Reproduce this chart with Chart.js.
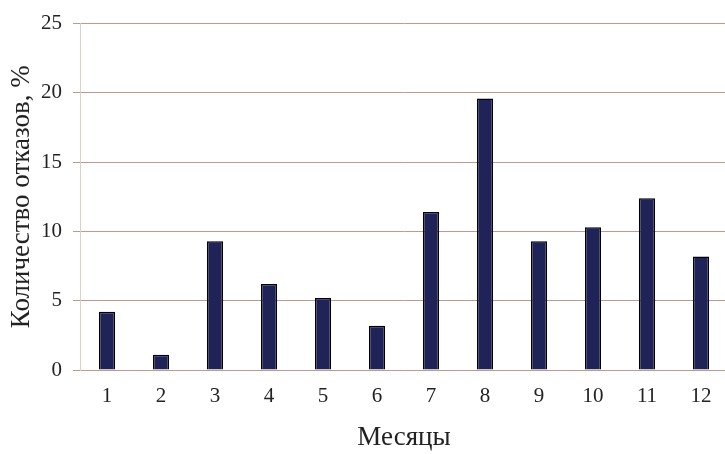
<!DOCTYPE html>
<html>
<head>
<meta charset="utf-8">
<script src="https://cdn.jsdelivr.net/npm/chart.js@4/dist/chart.umd.min.js"></script>
<style>
  html, body { margin: 0; padding: 0; background: #fff; overflow: hidden; }
  #wrap { width: 728px; height: 454px; }
</style>
</head>
<body>
<div id="wrap"><canvas id="myChart" width="728" height="454"></canvas></div>
<script>
// Данные графика
var months = ['1', '2', '3', '4', '5', '6', '7', '8', '9', '10', '11', '12'];
var failures = [4.2, 1.1, 9.3, 6.2, 5.2, 3.2, 11.4, 19.6, 9.3, 10.3, 12.4, 8.2];
var yTicks = [0, 5, 10, 15, 20, 25];

var serif = "'Liberation Serif', 'Times New Roman', serif";
var gridColor = '#c09a92';

var ctx = document.getElementById('myChart').getContext('2d');
var myChart = new Chart(ctx, {
    type: 'bar',
    data: {
        labels: months,
        datasets: [{
            data: failures,
            backgroundColor: '#1f2358',
            borderColor: '#000000',
            borderWidth: 1.5,
            barPercentage: 0.3,
            categoryPercentage: 1.0
        }]
    },
    options: {
        responsive: false,
        animation: false,
        layout: { padding: { top: 22, right: 0, bottom: 0, left: 4 } },
        plugins: {
            legend: { display: false },
            tooltip: { enabled: false }
        },
        scales: {
            x: {
                offset: true,
                // высота оси задаётся вручную, чтобы ось была на y=370
                afterFit: function (axis) { axis.height = 84; },
                grid: { display: false, drawTicks: false },
                border: { display: false },
                ticks: {
                    color: '#222',
                    padding: 14,
                    font: { family: serif, size: 21 }
                },
                title: {
                    display: true,
                    text: 'Месяцы',
                    color: '#222',
                    padding: { top: 10, bottom: 0 },
                    font: { family: serif, size: 27 }
                }
            },
            y: {
                min: 0,
                max: 25,
                afterFit: function (axis) { axis.width = 76; },
                afterBuildTicks: function (axis) {
                    axis.ticks = yTicks.map(function (v) { return { value: v }; });
                },
                grid: { color: gridColor, lineWidth: 1, tickLength: 7 },
                border: { display: true, color: '#ddd0cc', width: 1 },
                ticks: {
                    color: '#222',
                    padding: 11,
                    font: { family: serif, size: 21 }
                },
                title: {
                    display: true,
                    text: 'Количество отказов, %',
                    color: '#222',
                    padding: { top: 2, bottom: 5 },
                    font: { family: serif, size: 27 }
                }
            }
        }
    }
});
</script>
</body>
</html>
